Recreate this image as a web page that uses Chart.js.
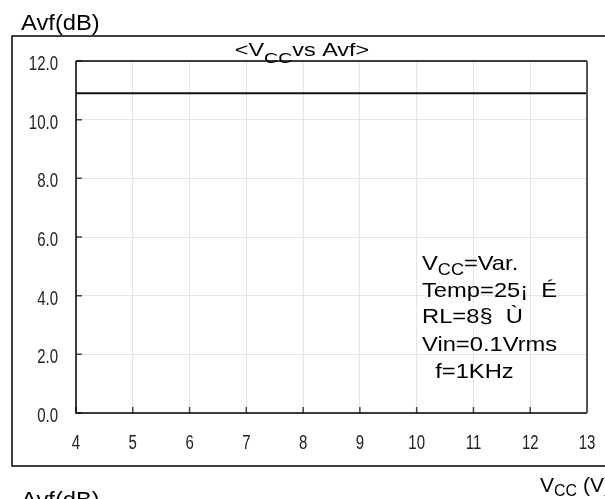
<!DOCTYPE html>
<html lang="en">
  <head>
    <meta charset="UTF-8" />
    <script src="https://cdn.jsdelivr.net/npm/chart.js"></script>
    <title>VCC vs Avf</title>
    <style>
      html, body { margin: 0; padding: 0; background: #fff; }
      canvas { display: block; }
    </style>
  </head>
  <body>
    <canvas id="graficoAvf" width="605" height="499"></canvas>
  </body>
</html>

<script>
  // curve data: supply voltage (V) and gain (dB)
  var vcc = [4, 5, 6, 7, 8, 9, 10, 11, 12, 13];
  var avf = [10.9, 10.9, 10.9, 10.9, 10.9, 10.9, 10.9, 10.9, 10.9, 10.9];

  // axis ticks
  var xTicks = [4, 5, 6, 7, 8, 9, 10, 11, 12, 13];
  var yTicks = [0, 2, 4, 6, 8, 10, 12];

  // test conditions box, each line is a list of [text, subscript?]
  var condicoes = [
    [["V"], ["CC", true], ["=Var."]],
    [["Temp=25¡  É"]],
    [["RL=8§  Ù"]],
    [["Vin=0.1Vrms"]],
    [["  f=1KHz"]],
  ];

  var fonteTexto = "'Liberation Sans', Arial, sans-serif";

  // draws a run of text pieces, some of them as subscripts, with a horizontal stretch
  function textoSub(ctx, partes, x, y, tam, tamSub, desce, esticar, alinhar, cor) {
    ctx.save();
    var total = 0;
    partes.forEach(function (p) {
      ctx.font = (p[1] ? tamSub : tam) + "px " + fonteTexto;
      total += ctx.measureText(p[0]).width;
    });
    var inicio = x;
    if (alinhar == "center") inicio = x - (total * esticar) / 2;
    if (alinhar == "right") inicio = x - total * esticar;
    ctx.translate(inicio, y);
    ctx.scale(esticar, 1);
    ctx.fillStyle = cor || "#000";
    ctx.textBaseline = "alphabetic";
    ctx.textAlign = "left";
    var cx = 0;
    partes.forEach(function (p) {
      ctx.font = (p[1] ? tamSub : tam) + "px " + fonteTexto;
      ctx.fillText(p[0], cx, p[1] ? desce : 0);
      cx += ctx.measureText(p[0]).width;
    });
    ctx.restore();
  }

  var moldura = {
    id: "moldura",
    afterDraw: function (chart) {
      var ctx = chart.ctx;
      var a = chart.chartArea;
      var sx = chart.scales.x;
      var sy = chart.scales.y;

      // outer frame (left, top and bottom edges)
      ctx.save();
      ctx.strokeStyle = "#000";
      ctx.lineWidth = 1.5;
      ctx.beginPath();
      ctx.moveTo(605, 36);
      ctx.lineTo(12, 36);
      ctx.lineTo(12, 466);
      ctx.lineTo(605, 466);
      ctx.stroke();

      // inward tick marks
      ctx.strokeStyle = "#444";
      ctx.lineWidth = 1.5;
      ctx.beginPath();
      xTicks.forEach(function (v) {
        var px = sx.getPixelForValue(v);
        ctx.moveTo(px, a.bottom);
        ctx.lineTo(px, a.bottom - 6);
      });
      yTicks.forEach(function (v) {
        var py = sy.getPixelForValue(v);
        ctx.moveTo(a.left, py);
        ctx.lineTo(a.left + 6, py);
      });
      ctx.stroke();

      // plot border
      ctx.strokeStyle = "#000";
      ctx.lineWidth = 1.5;
      ctx.beginPath();
      ctx.moveTo(a.left, a.top);
      ctx.lineTo(a.right, a.top);
      ctx.moveTo(a.left, a.top);
      ctx.lineTo(a.left, a.bottom);
      ctx.lineTo(a.right, a.bottom);
      ctx.stroke();
      ctx.strokeStyle = "#555";
      ctx.lineWidth = 2;
      ctx.beginPath();
      ctx.moveTo(a.right, a.top);
      ctx.lineTo(a.right, a.bottom);
      ctx.stroke();
      ctx.restore();

      // tick labels, narrow digits
      xTicks.forEach(function (v) {
        var px = sx.getPixelForValue(v);
        textoSub(ctx, [[String(v)]], px, 449, 20, 20, 0, 0.75, "center", "#222");
      });
      yTicks.forEach(function (v) {
        var py = sy.getPixelForValue(v);
        textoSub(ctx, [[v.toFixed(1)]], 58, py + 9, 20, 20, 0, 0.75, "right", "#222");
      });

      // axis titles and chart title
      textoSub(ctx, [["Avf(dB)"]], 21, 30, 22, 22, 0, 1.08, "left");
      textoSub(ctx, [["<V"], ["CC", true], ["vs Avf>"]], 302, 56, 18, 15, 7, 1.3, "center");
      textoSub(ctx, [["V"], ["CC", true], [" (V)"]], 540, 492, 21, 16, 4, 1.0, "left");
      textoSub(ctx, [["Avf(dB)"]], 21, 507, 22, 22, 0, 1.08, "left");

      // test conditions
      var linhas = [270, 297, 323, 351, 378];
      condicoes.forEach(function (partes, i) {
        textoSub(ctx, partes, 422, linhas[i], 21, 16, 5, 1.13, "left");
      });
    },
  };

  var areaGrafico = document.getElementById("graficoAvf");

  var grafico = new Chart(areaGrafico, {
    type: "line",
    data: {
      datasets: [
        {
          data: vcc.map(function (v, i) {
            return { x: v, y: avf[i] };
          }),
          borderColor: "#111",
          borderWidth: 2,
          pointRadius: 0,
          tension: 0,
        },
      ],
    },
    options: {
      responsive: false,
      animation: false,
      devicePixelRatio: 1,
      layout: {
        padding: { left: 0, top: 61, right: 18, bottom: 0 },
      },
      plugins: {
        legend: { display: false },
        tooltip: { enabled: false },
      },
      scales: {
        x: {
          type: "linear",
          min: 4,
          max: 13,
          afterBuildTicks: function (scale) {
            scale.ticks = xTicks.map(function (v) {
              return { value: v };
            });
          },
          afterFit: function (scale) {
            scale.height = 86;
          },
          grid: { color: "#e6e6e6", lineWidth: 1, drawTicks: false },
          border: { display: false },
          ticks: { display: false },
        },
        y: {
          min: 0,
          max: 12,
          afterBuildTicks: function (scale) {
            scale.ticks = yTicks.map(function (v) {
              return { value: v };
            });
          },
          afterFit: function (scale) {
            scale.width = 76;
          },
          grid: { color: "#e6e6e6", lineWidth: 1, drawTicks: false },
          border: { display: false },
          ticks: { display: false },
        },
      },
    },
    plugins: [moldura],
  });
</script>
